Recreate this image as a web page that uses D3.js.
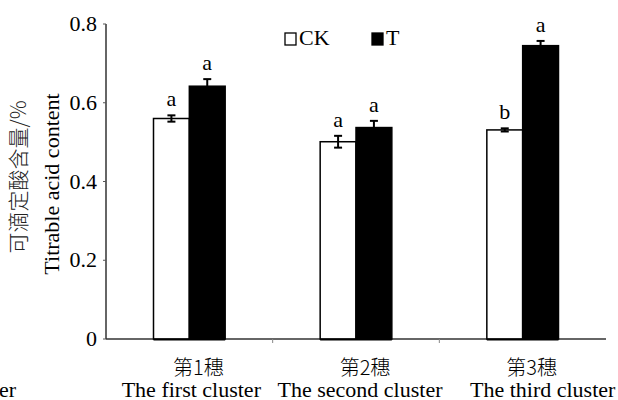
<!DOCTYPE html>
<html>
<head>
<meta charset="utf-8">
<script src="https://cdn.jsdelivr.net/npm/d3@7"></script>
<style>
  body { margin: 0; background: #fff; }
  svg { display: block; }
</style>
</head>
<body>
<svg id="chart" width="618" height="400"></svg>
<script>
// data
const clusters = ['第1穗', '第2穗', '第3穗'];
const clusterNames = ['The first cluster', 'The second cluster', 'The third cluster'];
const series = ['CK', 'T'];
const ckValues = [0.560, 0.501, 0.531];
const ckErrors = [0.008, 0.015, 0.004];
const tValues = [0.642, 0.537, 0.745];
const tErrors = [0.018, 0.017, 0.012];
const ckLetters = ['a', 'a', 'b'];
const tLetters = ['a', 'a', 'a'];
const yTicks = [0, 0.2, 0.4, 0.6, 0.8];
const nameShift = [2, 4, 20]; // the english names sit a bit off centre

const serif = "'Liberation Serif', Tinos, 'Times New Roman', Times, 'DejaVu Serif', serif";
const cjk = "'Noto Sans CJK SC', 'Noto Sans CJK JP', sans-serif";

const width = 618, height = 400;
const margin = { left: 106, right: 12, top: 24, bottom: 61 };
const svg = d3.select('#chart')
    .attr('font-family', serif)
    .style('font-family', serif);

const rows = [];
clusters.forEach((c, i) => {
    rows.push({ cluster: c, key: 'CK', value: ckValues[i], err: ckErrors[i], letter: ckLetters[i] });
    rows.push({ cluster: c, key: 'T', value: tValues[i], err: tErrors[i], letter: tLetters[i] });
});

const x0 = d3.scaleBand()
    .domain(clusters)
    .range([margin.left, width - margin.right])
    .paddingInner(0.57)
    .paddingOuter(0.285);
const x1 = d3.scaleBand()
    .domain(series)
    .range([0, x0.bandwidth()]);
const y = d3.scaleLinear()
    .domain([0, 0.8])
    .range([height - margin.bottom, margin.top]);

const fill = { CK: '#fff', T: '#000' };

// axes
svg.append('line')
    .attr('x1', margin.left).attr('x2', margin.left)
    .attr('y1', y(0.8)).attr('y2', y(0))
    .attr('stroke', '#333').attr('stroke-width', 1.5);
svg.append('line')
    .attr('x1', margin.left).attr('x2', width - margin.right)
    .attr('y1', y(0)).attr('y2', y(0))
    .attr('stroke', '#333').attr('stroke-width', 1.5);

svg.selectAll('.ytick')
    .data(yTicks)
    .enter()
    .append('line')
    .attr('x1', margin.left - 3).attr('x2', margin.left)
    .attr('y1', (d) => y(d)).attr('y2', (d) => y(d))
    .attr('stroke', '#555').attr('stroke-width', 1);

svg.selectAll('.ylabel')
    .data(yTicks)
    .enter()
    .append('text')
    .attr('x', margin.left - 9)
    .attr('y', (d) => y(d) + 7)
    .attr('text-anchor', 'end')
    .attr('font-size', 22)
    .text((d) => d === 0 ? '0' : d.toFixed(1));

// boundaries between clusters
const step = x0.step();
svg.selectAll('.xtick')
    .data(clusters.slice(1))
    .enter()
    .append('line')
    .attr('x1', (d, i) => margin.left + step * (i + 1))
    .attr('x2', (d, i) => margin.left + step * (i + 1))
    .attr('y1', y(0)).attr('y2', y(0) + 4)
    .attr('stroke', '#888').attr('stroke-width', 1);

// bars
const groups = svg.selectAll('.group')
    .data(clusters)
    .enter()
    .append('g')
    .attr('transform', (d) => 'translate(' + x0(d) + ',0)');

groups.selectAll('rect')
    .data((c) => rows.filter((r) => r.cluster === c))
    .enter()
    .append('rect')
    .attr('x', (d) => x1(d.key))
    .attr('y', (d) => y(d.value))
    .attr('width', x1.bandwidth())
    .attr('height', (d) => y(0) - y(d.value))
    .attr('fill', (d) => fill[d.key])
    .attr('stroke', '#000')
    .attr('stroke-width', 1.5);

// thicker base under each group
groups.append('line')
    .attr('x1', 0).attr('x2', x0.bandwidth())
    .attr('y1', y(0) + 0.5).attr('y2', y(0) + 0.5)
    .attr('stroke', '#000').attr('stroke-width', 2);

// error bars
const cap = 4;
const errs = groups.selectAll('.err')
    .data((c) => rows.filter((r) => r.cluster === c))
    .enter()
    .append('g')
    .attr('stroke', '#000')
    .attr('stroke-width', 2);
errs.append('line')
    .attr('x1', (d) => x1(d.key) + x1.bandwidth() / 2)
    .attr('x2', (d) => x1(d.key) + x1.bandwidth() / 2)
    .attr('y1', (d) => y(d.value - d.err))
    .attr('y2', (d) => y(d.value + d.err));
errs.append('line')
    .attr('x1', (d) => x1(d.key) + x1.bandwidth() / 2 - cap)
    .attr('x2', (d) => x1(d.key) + x1.bandwidth() / 2 + cap)
    .attr('y1', (d) => y(d.value + d.err))
    .attr('y2', (d) => y(d.value + d.err));
errs.append('line')
    .attr('x1', (d) => x1(d.key) + x1.bandwidth() / 2 - cap)
    .attr('x2', (d) => x1(d.key) + x1.bandwidth() / 2 + cap)
    .attr('y1', (d) => y(d.value - d.err))
    .attr('y2', (d) => y(d.value - d.err));

// significance letters
groups.selectAll('.letter')
    .data((c) => rows.filter((r) => r.cluster === c))
    .enter()
    .append('text')
    .attr('x', (d) => x1(d.key) + x1.bandwidth() / 2)
    .attr('y', (d) => y(d.value + d.err) - 9)
    .attr('text-anchor', 'middle')
    .attr('font-size', 22)
    .text((d) => d.letter);

// category labels
svg.selectAll('.xcn')
    .data(clusters)
    .enter()
    .append('text')
    .attr('font-family', cjk)
    .style('font-family', cjk)
    .attr('font-weight', 300)
    .attr('x', (d) => x0(d) + x0.bandwidth() / 2 + 9)
    .attr('y', 375)
    .attr('text-anchor', 'middle')
    .attr('font-size', 20)
    .text((d) => d);

svg.selectAll('.xen')
    .data(clusterNames)
    .enter()
    .append('text')
    .attr('x', (d, i) => x0(clusters[i]) + x0.bandwidth() / 2 + nameShift[i])
    .attr('y', 397)
    .attr('text-anchor', 'middle')
    .attr('font-size', 22)
    .text((d) => d);

// leftover from the neighbouring figure
svg.append('text')
    .attr('x', -1).attr('y', 397)
    .attr('font-size', 22)
    .text('er');

// y titles
svg.append('text')
    .attr('font-family', cjk)
    .style('font-family', cjk)
    .attr('font-weight', 300)
    .attr('fill', '#222')
    .attr('transform', 'translate(26,177) rotate(-90)')
    .attr('text-anchor', 'middle')
    .attr('font-size', 21)
    .text('可滴定酸含量/%');
svg.append('text')
    .attr('transform', 'translate(59,184) rotate(-90)')
    .attr('text-anchor', 'middle')
    .attr('font-size', 22)
    .text('Titrable acid content');

// legend
const legend = svg.selectAll('.legend')
    .data(series)
    .enter()
    .append('g')
    .attr('transform', (d, i) => 'translate(' + (285 + i * 87) + ',33)');
legend.append('rect')
    .attr('width', 11).attr('height', 12)
    .attr('fill', (d) => fill[d])
    .attr('stroke', '#000').attr('stroke-width', 1.3);
legend.append('text')
    .attr('x', 14).attr('y', 12)
    .attr('font-size', 22)
    .text((d) => d);
</script>
</body>
</html>
